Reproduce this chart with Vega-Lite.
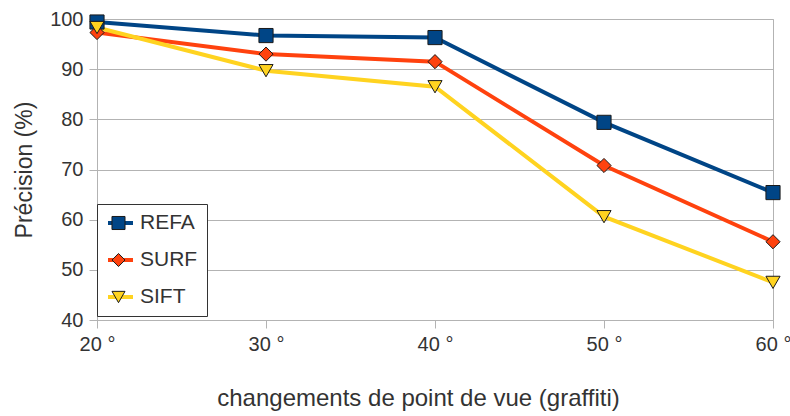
{
  "$schema": "https://vega.github.io/schema/vega-lite/v6.json",
  "width": 676,
  "height": 301,
  "padding": {"left": 97, "top": 19, "right": 17, "bottom": 96},
  "autosize": {"type": "none"},
  "background": "white",
  "config": {
    "font": "Liberation Sans",
    "view": {"stroke": "#b3b3b3", "strokeWidth": 1},
    "axis": {
      "labelFont": "Liberation Sans",
      "titleFont": "Liberation Sans",
      "labelFontSize": 20,
      "titleFontSize": 23,
      "labelColor": "#333333",
      "titleColor": "#333333",
      "titleFontWeight": "normal",
      "domainColor": "#b3b3b3",
      "tickColor": "#b3b3b3",
      "gridColor": "#b3b3b3",
      "tickSize": 8
    },
    "legend": {
      "labelFont": "Liberation Sans",
      "labelFontSize": 21,
      "labelColor": "#333333"
    }
  },
  "data": {
    "values": [
      {"angle": "20 °", "series": "REFA", "value": 99.4},
      {"angle": "30 °", "series": "REFA", "value": 96.7},
      {"angle": "40 °", "series": "REFA", "value": 96.3},
      {"angle": "50 °", "series": "REFA", "value": 79.4},
      {"angle": "60 °", "series": "REFA", "value": 65.4},
      {"angle": "20 °", "series": "SURF", "value": 97.3},
      {"angle": "30 °", "series": "SURF", "value": 93.0},
      {"angle": "40 °", "series": "SURF", "value": 91.5},
      {"angle": "50 °", "series": "SURF", "value": 70.8},
      {"angle": "60 °", "series": "SURF", "value": 55.6},
      {"angle": "20 °", "series": "SIFT", "value": 98.3},
      {"angle": "30 °", "series": "SIFT", "value": 89.7},
      {"angle": "40 °", "series": "SIFT", "value": 86.5},
      {"angle": "50 °", "series": "SIFT", "value": 60.6},
      {"angle": "60 °", "series": "SIFT", "value": 47.5}
    ]
  },
  "encoding": {
    "x": {
      "field": "angle",
      "type": "ordinal",
      "sort": null,
      "scale": {"type": "point", "padding": 0},
      "axis": {"labelAngle": 0, "title": "changements de point de vue (graffiti)", "titleFontSize": 24, "titlePadding": 32, "titleX": 321, "labelPadding": 6, "grid": false}
    },
    "y": {
      "field": "value",
      "type": "quantitative",
      "scale": {"domain": [40, 100], "nice": false, "zero": false},
      "axis": {"values": [40, 50, 60, 70, 80, 90, 100], "title": "Précision (%)", "titlePadding": 13, "labelPadding": 6, "grid": true}
    }
  },
  "layer": [
    {
      "mark": {"type": "line", "strokeWidth": 4},
      "encoding": {
        "stroke": {
          "field": "series",
          "type": "nominal",
          "sort": ["REFA", "SURF", "SIFT"],
          "scale": {"range": ["#004586", "#ff420e", "#ffd320"]},
          "legend": {
            "title": null,
            "orient": "none",
            "legendX": 0,
            "legendY": 185,
            "fillColor": "white",
            "strokeColor": "#333333",
            "padding": 9,
            "rowPadding": 16,
            "clipHeight": 20,
            "symbolType": "stroke",
            "symbolSize": 625,
            "symbolStrokeWidth": 4,
            "labelOffset": 5
          }
        }
      }
    },
    {
      "mark": {"type": "point", "filled": true, "size": 200, "stroke": "#1a1a1a", "strokeWidth": 1, "opacity": 1},
      "encoding": {
        "color": {
          "field": "series",
          "type": "nominal",
          "scale": {"domain": ["REFA", "SURF", "SIFT"], "range": ["#004586", "#ff420e", "#ffd320"]},
          "legend": {
            "title": null,
            "orient": "none",
            "legendX": 0,
            "legendY": 185,
            "fillColor": "transparent",
            "padding": 9,
            "rowPadding": 16,
            "clipHeight": 20,
            "symbolSize": 170,
            "symbolOffset": 2,
            "symbolStrokeColor": "#1a1a1a",
            "symbolStrokeWidth": 1,
            "labelExpr": "''"
          }
        },
        "shape": {
          "field": "series",
          "type": "nominal",
          "scale": {"domain": ["REFA", "SURF", "SIFT"], "range": ["square", "diamond", "triangle-down"]},
          "legend": {
            "title": null,
            "orient": "none",
            "legendX": 0,
            "legendY": 185,
            "fillColor": "transparent",
            "padding": 9,
            "rowPadding": 16,
            "clipHeight": 20,
            "symbolSize": 170,
            "symbolOffset": 2,
            "symbolStrokeColor": "#1a1a1a",
            "symbolStrokeWidth": 1,
            "labelExpr": "''"
          }
        }
      }
    }
  ]
}
